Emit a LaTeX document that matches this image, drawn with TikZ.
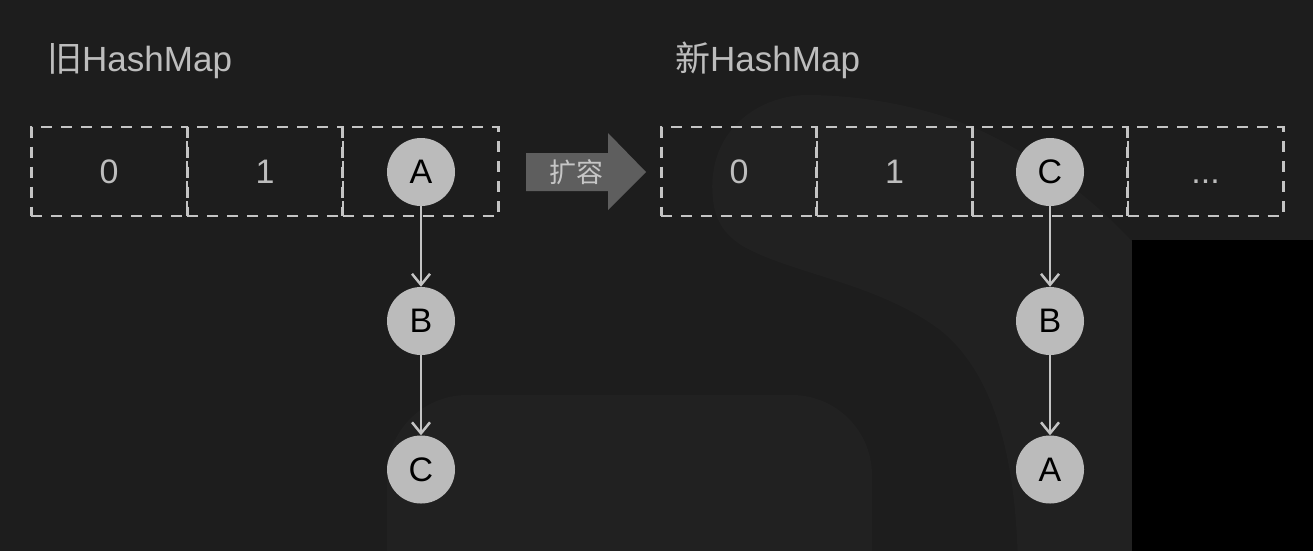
\documentclass[tikz,border=0pt]{standalone}
\usepackage{fontspec}
\setmainfont{Liberation Sans}
\newfontfamily\cjk{Noto Sans CJK SC}
\usetikzlibrary{arrows.meta}
\definecolor{bg}{HTML}{1D1D1D}
\definecolor{bglight}{HTML}{212121}
\definecolor{linegray}{HTML}{C4C4C4}
\definecolor{textgray}{HTML}{BDBDBD}
\definecolor{nodefill}{HTML}{BBBBBB}
\definecolor{arrowgray}{HTML}{5E5E5E}
\definecolor{arrowtext}{HTML}{C6C6C6}
\tikzset{
  cell/.style={draw=linegray, line width=2.7pt, dash pattern=on 11pt off 9pt,
    minimum width=155.7pt, minimum height=89pt, inner sep=0pt, outer sep=0pt,
    text=textgray, font=\fontsize{34}{40}\selectfont},
  item/.style={circle, fill=nodefill, minimum size=68pt, inner sep=0pt,
    text=black, font=\fontsize{34}{40}\selectfont},
  link/.style={draw=linegray, line width=2.5pt, -{Straight Barb[length=11pt,width=18pt,line width=2.5pt]}},
  title/.style={anchor=base west, inner sep=0pt, text=textgray, font=\fontsize{35}{40}\selectfont},
  growtext/.style={inner sep=0pt, text=arrowtext, font=\fontsize{27}{32}\selectfont\cjk}
}
\begin{document}
\begin{tikzpicture}[x=1pt,y=-1pt]
\useasboundingbox (0,0) rectangle (1313,550);
\clip (0,0) rectangle (1313,550);
\fill[bg] (-10,-10) rectangle (1323,560);
% faint background shapes
\fill[bglight] (713,200) .. controls (705,130) and (760,95) .. (807,95)
  .. controls (870,95) and (940,110) .. (990,135)
  .. controls (1050,165) and (1100,205) .. (1140,250) -- (1140,580) -- (1018,580)
  .. controls (1018,450) and (990,370) .. (940,330)
  .. controls (880,285) and (800,275) .. (750,250)
  .. controls (725,238) and (715,220) .. (713,200) -- cycle;
\fill[bglight, rounded corners=80pt] (387,660) -- (387,395) -- (872,395) -- (872,660) -- cycle;
\fill[black] (1132,240) rectangle (1323,560);
% titles
\node[title] (t1) at (47,71) {{\cjk 旧}HashMap};
\node[title] (t2) at (675,71) {{\cjk 新}HashMap};
% old array
\node[cell] (o0) at (109,171.5) {0};
\node[cell] (o1) at (265,171.5) {1};
\node[cell] (o2) at (420.5,171.5) {};
% new array
\node[cell] (n0) at (739,171.5) {0};
\node[cell] (n1) at (894.5,171.5) {1};
\node[cell] (n2) at (1050,171.5) {};
\node[cell] (n3) at (1205.5,171.5) {\vphantom{0}...};
% expand arrow
\fill[arrowgray] (526,153) -- (608,153) -- (608,133) -- (646,172) -- (608,210) -- (608,191) -- (526,191) -- cycle;
\node[growtext] (grow) at (576,172) {扩容};
% old chain
\node[item] (oA) at (421,172) {A};
\node[item] (oB) at (421,321) {B};
\node[item] (oC) at (421,469.5) {C};
\draw[link] (oA) -- (oB);
\draw[link] (oB) -- (oC);
% new chain
\node[item] (nC) at (1050,172) {C};
\node[item] (nB) at (1050,321) {B};
\node[item] (nA) at (1050,469.5) {A};
\draw[link] (nC) -- (nB);
\draw[link] (nB) -- (nA);
\end{tikzpicture}
\end{document}
